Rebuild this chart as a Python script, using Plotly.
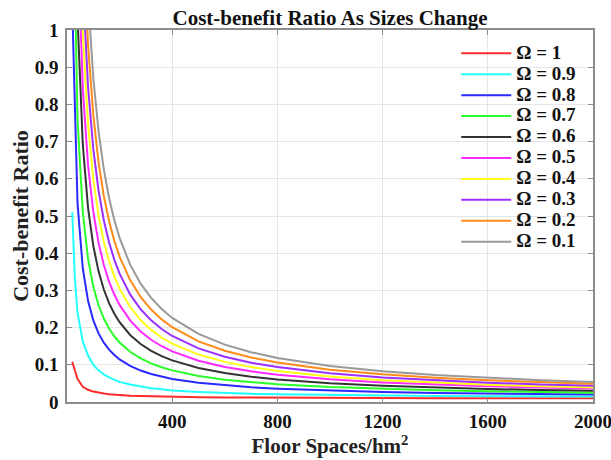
import plotly.graph_objects as go

# Floor space values (hm^2) at which the curves are sampled
floor_space = [20, 40, 60, 80, 100, 120, 140, 160, 180, 200, 240, 280, 320, 360,
               400, 500, 600, 700, 800, 1000, 1200, 1400, 1600, 1800, 2000]
floor_space_cyan = [20, 30, 40, 60, 80, 100, 120, 140, 160, 180, 200, 240, 280, 320, 360,
                    400, 500, 600, 700, 800, 1000, 1200, 1400, 1600, 1800, 2000]

omega_1 = [0.108, 0.062, 0.0407, 0.0328, 0.028, 0.0248, 0.0226, 0.0209, 0.0196, 0.0185,
           0.0169, 0.0158, 0.0149, 0.0143, 0.0138, 0.0128, 0.0122, 0.0117, 0.0114, 0.0109,
           0.0106, 0.0104, 0.0102, 0.0101, 0.0100]
omega_09 = [0.51, 0.33, 0.24, 0.163, 0.125, 0.1, 0.085, 0.074, 0.066, 0.059, 0.054, 0.047,
            0.041, 0.037, 0.034, 0.031, 0.027, 0.024, 0.022, 0.0205, 0.0185, 0.017, 0.016,
            0.0155, 0.015, 0.0145]
omega_08 = [1.06, 0.5345, 0.3595, 0.272, 0.2195, 0.1845, 0.1595, 0.1408, 0.1262, 0.1145,
            0.097, 0.0845, 0.0751, 0.0678, 0.062, 0.0515, 0.0445, 0.0395, 0.0358, 0.0305,
            0.027, 0.0245, 0.0226, 0.0212, 0.020]
omega_07 = [1.51, 0.76, 0.51, 0.385, 0.31, 0.26, 0.2243, 0.1975, 0.1767, 0.16, 0.135,
            0.1171, 0.1038, 0.0933, 0.085, 0.07, 0.06, 0.0529, 0.0475, 0.04, 0.035, 0.0314,
            0.0288, 0.0267, 0.025]
omega_06 = [2.06, 1.035, 0.693, 0.522, 0.4195, 0.3512, 0.3024, 0.2658, 0.2373, 0.2145,
            0.1803, 0.1559, 0.1376, 0.1234, 0.112, 0.0915, 0.0778, 0.0681, 0.0608, 0.0505,
            0.0437, 0.0388, 0.0351, 0.0323, 0.030]
omega_05 = [2.511, 1.261, 0.8443, 0.636, 0.511, 0.4277, 0.3681, 0.3235, 0.2888, 0.261,
            0.2193, 0.1896, 0.1673, 0.1499, 0.136, 0.111, 0.0943, 0.0824, 0.0735, 0.061,
            0.0527, 0.0467, 0.0423, 0.0388, 0.036]
omega_04 = [2.96, 1.485, 0.9928, 0.747, 0.5995, 0.5012, 0.4309, 0.3783, 0.3373, 0.3045,
            0.2553, 0.2202, 0.1939, 0.1734, 0.157, 0.1275, 0.1078, 0.0938, 0.0833, 0.0685,
            0.0587, 0.0516, 0.0464, 0.0423, 0.039]
omega_03 = [3.36, 1.685, 1.1267, 0.8475, 0.68, 0.5683, 0.4886, 0.4288, 0.3822, 0.345,
            0.2892, 0.2493, 0.2194, 0.1961, 0.1775, 0.144, 0.1217, 0.1057, 0.0938, 0.077,
            0.0658, 0.0579, 0.0519, 0.0472, 0.0435]
omega_02 = [3.811, 1.911, 1.2777, 0.961, 0.771, 0.6443, 0.5539, 0.486, 0.4332, 0.391,
            0.3277, 0.2824, 0.2485, 0.2221, 0.201, 0.163, 0.1377, 0.1196, 0.106, 0.087,
            0.0743, 0.0653, 0.0585, 0.0532, 0.049]
omega_01 = [4.311, 2.161, 1.4443, 1.086, 0.871, 0.7277, 0.6253, 0.5485, 0.4888, 0.441,
            0.3693, 0.3181, 0.2798, 0.2499, 0.226, 0.183, 0.1543, 0.1339, 0.1185, 0.097,
            0.0827, 0.0724, 0.0648, 0.0588, 0.054]

series_names = ["Ω = 1", "Ω = 0.9", "Ω = 0.8", "Ω = 0.7", "Ω = 0.6",
                "Ω = 0.5", "Ω = 0.4", "Ω = 0.3", "Ω = 0.2", "Ω = 0.1"]
series_values = [omega_1, omega_09, omega_08, omega_07, omega_06,
                 omega_05, omega_04, omega_03, omega_02, omega_01]
series_x = [floor_space, floor_space_cyan] + [floor_space] * 8
series_colors = ["#ff2a2a", "#22ffff", "#2a2aff", "#2aff2a", "#333333",
                 "#ff2aff", "#ffff1a", "#9b30ff", "#ff8c1a", "#999999"]

x_tick_vals = [400, 800, 1200, 1600, 2000]
y_tick_vals = [0, 0.1, 0.2, 0.3, 0.4, 0.5, 0.6, 0.7, 0.8, 0.9, 1]
y_tick_text = ["0", "0.1", "0.2", "0.3", "0.4", "0.5", "0.6", "0.7", "0.8", "0.9", "1"]

FONT = "Liberation Serif, Times New Roman, serif"

fig = go.Figure()
for name, xs, ys, col in zip(series_names, series_x, series_values, series_colors):
    fig.add_trace(go.Scatter(
        x=xs, y=ys, mode="lines", name='<span style="font-size:19px">' + name + '</span>',
        line=dict(color=col, width=2),
    ))

axis_common = dict(
    showline=True, linecolor="#8c8c8c", linewidth=1.5, mirror="ticks",
    ticks="inside", ticklen=5, tickcolor="#8c8c8c",
    showgrid=True, gridcolor="#e6e6e6", gridwidth=1, zeroline=False,
    ticklabeloverflow="allow", automargin=False,
    tickfont=dict(family=FONT, size=19, color="#111111", weight="bold"),
)

fig.update_layout(
    width=611, height=460,
    margin=dict(l=67, r=18, t=30, b=58, autoexpand=False),
    paper_bgcolor="white", plot_bgcolor="white",
    title=dict(text="Cost-benefit Ratio As Sizes Change", xref="paper", x=0.5,
               xanchor="center", yref="container", y=0.978, yanchor="top",
               automargin=False,
               font=dict(family=FONT, size=21, color="#111111", weight="bold")),
    xaxis=dict(range=[0, 2000], tickvals=x_tick_vals, ticklabelstandoff=1,
               title=dict(text="Floor Spaces/hm<sup>2</sup>", standoff=0,
                          font=dict(family=FONT, size=21, color="#222222", weight="bold")),
               **axis_common),
    yaxis=dict(range=[0, 1], tickvals=y_tick_vals, ticktext=y_tick_text,
               ticklabelstandoff=3,
               title=dict(text="Cost-benefit Ratio", standoff=0,
                          font=dict(family=FONT, size=22, color="#222222", weight="bold")),
               **axis_common),
    legend=dict(x=0.740, y=0.979, xanchor="left", yanchor="top", itemwidth=50,
                bgcolor="rgba(0,0,0,0)", borderwidth=0,
                font=dict(family=FONT, size=13.8, color="#111111", weight="bold")),
    showlegend=True,
)

fig.write_html(
    "out.html",
    config={"displayModeBar": False},
    post_script=(
        "document.documentElement.style.margin='0';"
        "document.body.style.margin='0';"
        "document.documentElement.style.overflow='hidden';"
        "document.body.style.overflow='hidden';"
    ),
)
